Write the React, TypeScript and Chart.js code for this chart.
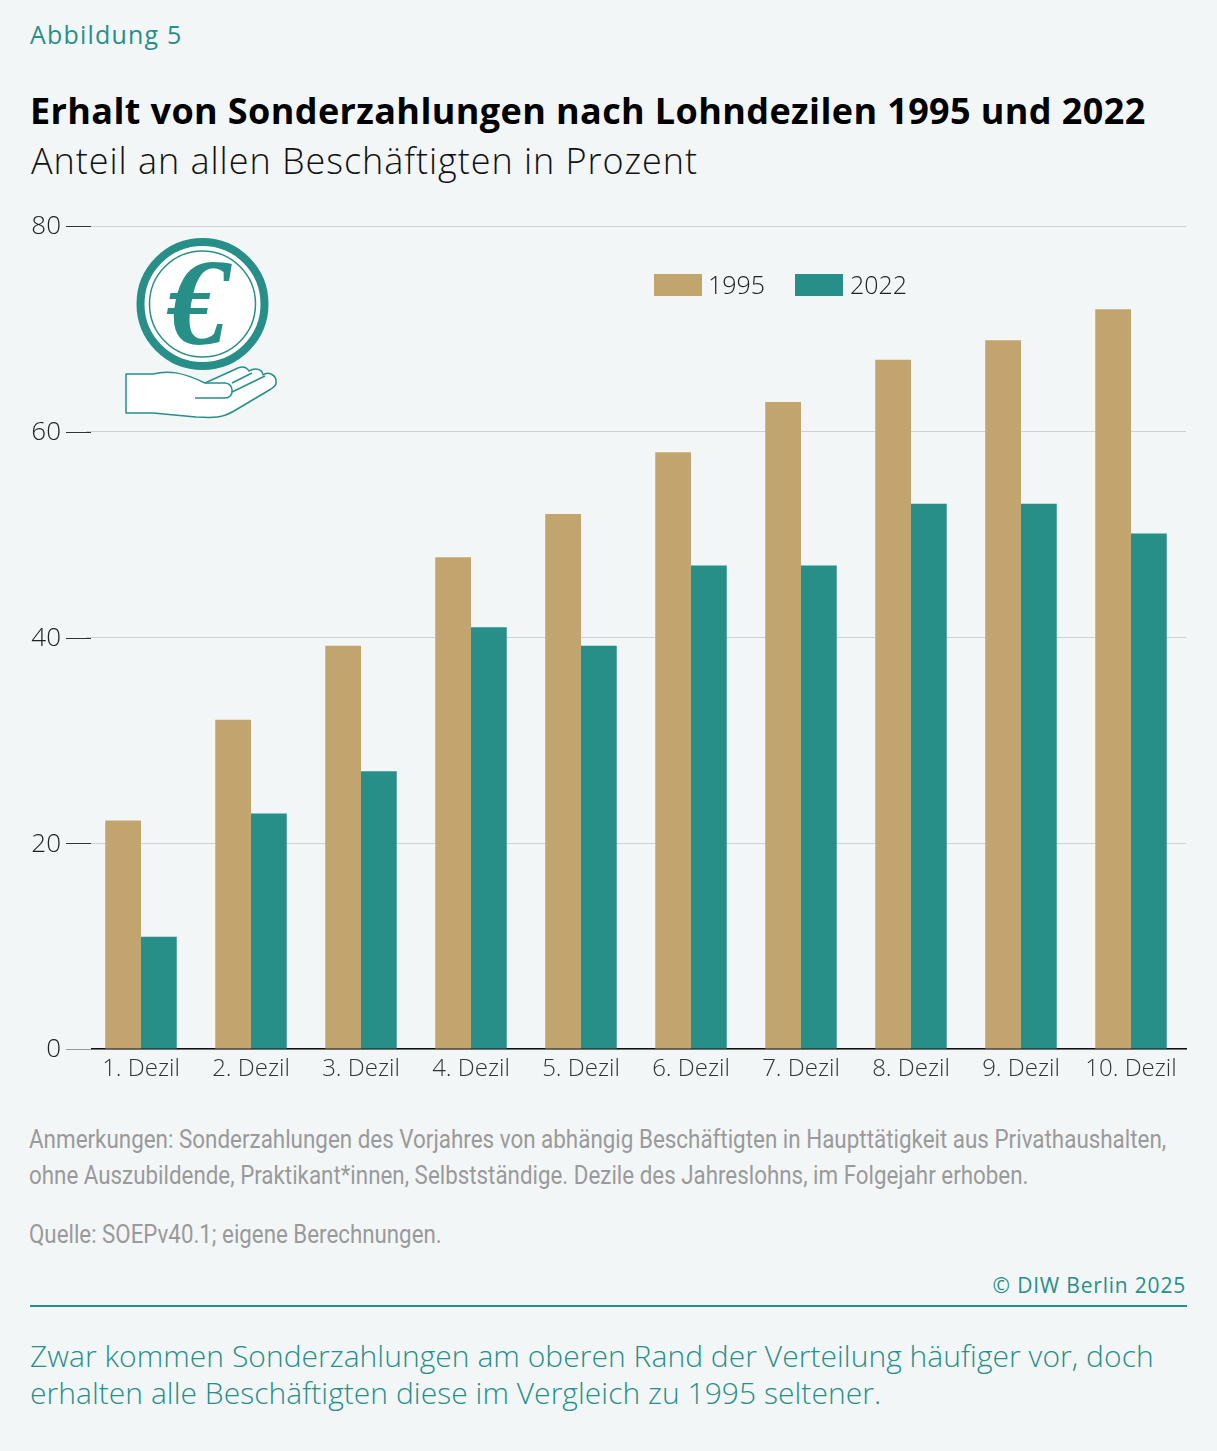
import { useEffect, useRef } from "react";
import { Chart, registerables } from "chart.js";

Chart.register(...registerables);

const deciles = ["1. Dezil", "2. Dezil", "3. Dezil", "4. Dezil", "5. Dezil", "6. Dezil", "7. Dezil", "8. Dezil", "9. Dezil", "10. Dezil"];
const values1995 = [22.2, 32, 39.2, 47.8, 52, 58, 62.9, 67, 68.9, 71.9];
const values2022 = [10.9, 22.9, 27, 41, 39.2, 47, 47, 53, 53, 50.1];

const TAN = "#c2a46f";
const TEAL = "#288f88";
const BG = "#f2f6f7";
const SANS = '"Open Sans", sans-serif';
const NARROW = 'Roboto, sans-serif';

// Ticks run past the plot's left edge in the original, so they get drawn by hand.
const leftTicks = {
  id: "leftTicks",
  afterDraw(chart: Chart) {
    const y = chart.scales.y;
    const ctx = chart.ctx;
    ctx.save();
    y.ticks.forEach((t) => {
      const py = Math.round(y.getPixelForValue(t.value)) + 0.5;
      if (t.value === 0) {
        // the baseline only starts at 91, left of that it is a pale tick
        ctx.fillStyle = BG;
        ctx.fillRect(66, py - 2, 25, 4);
      }
      ctx.strokeStyle = t.value === 0 ? "#9a9a9a" : "#333333";
      ctx.lineWidth = 1;
      ctx.beginPath();
      ctx.moveTo(66, py);
      ctx.lineTo(91, py);
      ctx.stroke();
    });
    ctx.restore();
  },
};

function Line({ x, y, size, color, weight = 400, family = SANS, spacing = 0, squeeze = 1, right, children }: any) {
  return (
    <div
      style={{
        position: "absolute",
        left: right === undefined ? x : undefined,
        right,
        top: y - size,
        height: size * 2,
        lineHeight: `${size * 2}px`,
        fontSize: size,
        fontFamily: family,
        fontWeight: weight,
        letterSpacing: spacing,
        color,
        whiteSpace: "nowrap",
        transform: squeeze === 1 ? undefined : `scaleX(${squeeze})`,
        transformOrigin: "left center",
      }}
    >
      {children}
    </div>
  );
}

function CoinIcon() {
  return (
    <svg width={160} height={190} viewBox="0 0 160 190" style={{ position: "absolute", left: 122, top: 234 }}>
      <circle cx={80.5} cy={70} r={62} fill="#fff" stroke={TEAL} strokeWidth={8} />
      <circle cx={80.5} cy={70} r={53} fill="none" stroke={TEAL} strokeWidth={1.5} />
      <text x={76} y={110} textAnchor="middle" fontFamily='"Liberation Serif", serif' fontStyle="italic" fontWeight={700} fontSize={122} fill={TEAL}>€</text>
      <path
        d="M4 140 H31 C46 136 60 138 83 149 L116 134 C121 132 125 134 127 137 C132 134 140 134 141 141 C146 137 154 141 154 147 C155 151 152 153 149 155 L112 177 C100 184 92 184 74 183 L31 179 H4 Z"
        fill="#fff"
        stroke={TEAL}
        strokeWidth={1.5}
        strokeLinejoin="round"
      />
      <path d="M83 149 H103 C112 149 113 164 103 164 H73" fill="none" stroke={TEAL} strokeWidth={1.5} />
      <path d="M110 149 L130 139 M110 158 L143 142" fill="none" stroke={TEAL} strokeWidth={1.5} />
    </svg>
  );
}

export default function App() {
  const canvasRef = useRef<HTMLCanvasElement>(null);

  useEffect(() => {
    const canvas = canvasRef.current;
    if (!canvas) return;

    const chart = new Chart(canvas.getContext("2d")!, {
      type: "bar",
      plugins: [leftTicks],
      data: {
        labels: deciles,
        datasets: [
          { label: "1995", data: values1995, backgroundColor: TAN, borderWidth: 0, barPercentage: 1, categoryPercentage: 0.65 },
          { label: "2022", data: values2022, backgroundColor: TEAL, borderWidth: 0, barPercentage: 1, categoryPercentage: 0.65 },
        ],
      },
      options: {
        animation: false,
        responsive: false,
        layout: { padding: { top: 26, right: 31, left: 0, bottom: 0 } },
        plugins: { legend: { display: false }, tooltip: { enabled: false }, title: { display: false } },
        scales: {
          x: {
            grid: { display: false },
            border: { color: "#111111", width: 1.5 },
            ticks: { color: "#333333", font: { family: SANS, size: 24, weight: 300 }, padding: -2, maxRotation: 0, autoSkip: false },
            afterFit: (s: any) => { s.height = 51; },
          },
          y: {
            min: 0,
            max: 80,
            grid: { color: "#cfd3d4", lineWidth: 1, tickLength: 20, tickColor: "transparent" },
            border: { display: false },
            ticks: { stepSize: 20, color: "#222222", font: { family: SANS, size: 26, weight: 300 }, padding: 5, labelOffset: 1 },
            afterFit: (s: any) => { s.width = 86; },
          },
        },
      },
    });

    return () => chart.destroy();
  }, []);

  return (
    <div style={{ position: "absolute", left: 0, top: 0, width: 1217, height: 1451, background: BG, overflow: "hidden" }}>
      <Line x={30} y={34} size={25} spacing={1.2} color={TEAL}>Abbildung 5</Line>
      <Line x={30} y={111} size={36} weight={700} spacing={0.38} color="#000">Erhalt von Sonderzahlungen nach Lohndezilen 1995 und 2022</Line>
      <Line x={31} y={161} size={36} weight={300} spacing={0.95} color="#111">Anteil an allen Beschäftigten in Prozent</Line>

      <canvas ref={canvasRef} width={1217} height={900} style={{ position: "absolute", left: 0, top: 200, width: 1217, height: 900 }} />

      <CoinIcon />

      <div style={{ position: "absolute", left: 654, top: 274, width: 48, height: 22, background: TAN }} />
      <Line x={708} y={284} size={25} weight={300} color="#222">1995</Line>
      <div style={{ position: "absolute", left: 795, top: 274, width: 48, height: 22, background: TEAL }} />
      <Line x={850} y={284} size={25} weight={300} color="#222">2022</Line>

      <Line x={29} y={1140} size={25} squeeze={0.896} color="#9a9a9a" family={NARROW}>Anmerkungen: Sonderzahlungen des Vorjahres von abhängig Beschäftigten in Haupttätigkeit aus Privathaushalten,</Line>
      <Line x={29} y={1176} size={25} squeeze={0.894} color="#9a9a9a" family={NARROW}>ohne Auszubildende, Praktikant*innen, Selbstständige. Dezile des Jahreslohns, im Folgejahr erhoben.</Line>
      <Line x={29} y={1235} size={25} squeeze={0.892} color="#9a9a9a" family={NARROW}>Quelle: SOEPv40.1; eigene Berechnungen.</Line>

      <Line right={31} y={1285} size={21} spacing={0.8} color={TEAL}>© DIW Berlin 2025</Line>
      <div style={{ position: "absolute", left: 30, top: 1305, width: 1157, height: 2, background: TEAL }} />

      <Line x={30} y={1356} size={30} weight={300} spacing={0.04} color={TEAL}>Zwar kommen Sonderzahlungen am oberen Rand der Verteilung häufiger vor, doch</Line>
      <Line x={30} y={1393} size={30} weight={300} spacing={0.04} color={TEAL}>erhalten alle Beschäftigten diese im Vergleich zu 1995 seltener.</Line>
    </div>
  );
}
